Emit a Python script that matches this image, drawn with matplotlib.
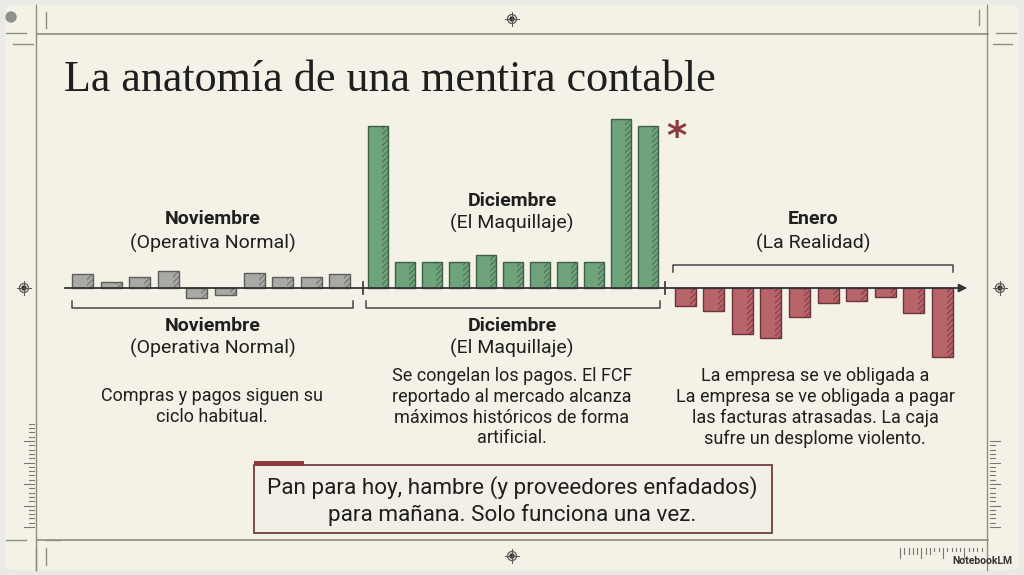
import numpy as np
import matplotlib.pyplot as plt
from matplotlib.patches import Rectangle, FancyBboxPatch

# FCF semanal (unidades arbitrarias)
nov_vals = [14, 6, 11, 17, -10, -7, 15, 11, 11, 14]
dic_vals = [162, 26, 26, 26, 33, 26, 26, 26, 26, 169, 162]
ene_vals = [-18, -23, -46, -50, -29, -15, -13, -9, -25, -69]

grupos = ['Noviembre', 'Diciembre', 'Enero']
subtitulos = ['(Operativa Normal)', '(El Maquillaje)', '(La Realidad)']
textos = [
    'Compras y pagos siguen su\nciclo habitual.',
    'Se congelan los pagos. El FCF\nreportado al mercado alcanza\nmáximos históricos de forma\nartificial.',
    'La empresa se ve obligada a\nLa empresa se ve obligada a pagar\nlas facturas atrasadas. La caja\nsufre un desplome violento.',
]
titulo = 'La anatomía de una mentira contable'
mensaje = 'Pan para hoy, hambre (y proveedores enfadados)\npara mañana. Solo funciona una vez.'

bg_col = '#f4f2e7'
line_col = '#8d8d82'
ink = '#1f1f1f'
gris, verde, rojo = '#a9a9a6', '#6fa37b', '#b7646b'
edge_gris, edge_verde, edge_rojo = '#5d5d5a', '#3f5f47', '#6e3338'
acento = '#8c3b40'

fig = plt.figure(figsize=(10.24, 5.75), dpi=100)
fig.patch.set_facecolor('#e9e9e6')

# capa de fondo en coordenadas de pixel
bg = fig.add_axes([0, 0, 1, 1])
bg.set_xlim(0, 1024)
bg.set_ylim(575, 0)
bg.axis('off')
bg.add_patch(FancyBboxPatch((5, 5), 1014, 565, boxstyle='round,pad=0,rounding_size=8',
                            fc=bg_col, ec='none'))

# marco
bg.plot([37, 988], [34, 34], color=line_col, lw=1.2)
bg.plot([37, 988], [540, 540], color=line_col, lw=1.2)
bg.plot([36, 36], [5, 570], color=line_col, lw=1.0)
bg.plot([987, 987], [5, 570], color=line_col, lw=1.0)
for x0, x1, y in [(6, 26, 33), (13, 33, 44), (996, 1016, 33), (993, 1012, 44),
                  (6, 26, 540), (46, 60, 540)]:
    bg.plot([x0, x1], [y, y], color=line_col, lw=1.0)
for x, y0, y1 in [(46, 12, 28), (979, 10, 25), (46, 548, 565), (36, 548, 570)]:
    bg.plot([x, x], [y0, y1], color=line_col, lw=1.0)

# dianas
for cx, cy in [(512, 19), (24, 288), (1000, 288), (512, 556)]:
    bg.add_patch(plt.Circle((cx, cy), 4.5, fill=False, ec='#555555', lw=0.9))
    bg.plot([cx - 7, cx + 7], [cy, cy], color='#555555', lw=0.7)
    bg.plot([cx, cx], [cy - 7, cy + 7], color='#555555', lw=0.7)
    bg.add_patch(plt.Circle((cx, cy), 2, color='#333333'))
bg.add_patch(plt.Circle((11, 17), 5, color='#8f918a'))

# reglas
for i, y in enumerate(np.arange(527, 420, -4.3)):
    L = 10 if i % 5 == 0 else 5
    bg.plot([34 - L, 34], [y, y], color='#777777', lw=0.8)
for i, y in enumerate(np.arange(527, 440, -4.3)):
    L = 10 if i % 5 == 0 else 5
    bg.plot([990, 990 + L], [y, y], color='#777777', lw=0.8)
for i, x in enumerate(np.arange(900, 985, 4.3)):
    L = 10 if i % 5 == 0 else (6 if i < 8 else 3)
    bg.plot([x, x], [548, 548 + L], color='#777777', lw=0.8)

bg.text(64, 80, titulo, family='Liberation Serif', fontsize=31.8, color=ink, va='center', ha='left')

# eje de barras: 1 unidad = 1 pixel, cero en la fila 288
ax = fig.add_axes([0, 0, 1, 1])
ax.set_xlim(0, 1024)
ax.set_ylim(-287, 288)
ax.axis('off')
ax.patch.set_alpha(0)

series = [nov_vals, dic_vals, ene_vals]
inicios = [82.5, 378, 685]
pasos = [28.6, 27.0, 28.6]
anchos = [21, 20, 21]
colores = [(gris, edge_gris), (verde, edge_verde), (rojo, edge_rojo)]
for vals, x0, paso, w, (fc, ec) in zip(series, inicios, pasos, anchos, colores):
    x = x0 + paso * np.arange(len(vals))
    ax.bar(x, vals, width=w, color=fc, edgecolor='none', zorder=2)
    ax.bar(x + w / 2 - 3, vals, width=6, fill=False, hatch='//////', edgecolor=ec,
           linewidth=0, alpha=0.6, zorder=3)
    ax.bar(x, vals, width=w, fill=False, edgecolor=ec, linewidth=1.0, zorder=4)

ax.annotate('', xy=(970, 0), xytext=(62, 0),
            arrowprops=dict(arrowstyle='-|>', color='#333333', lw=1.3, mutation_scale=12), zorder=5)
for xs in [363, 665]:
    ax.plot([xs, xs], [-6, 6], color='#333333', lw=1.2, zorder=5)

# corchetes
def corchete(x0, x1, y, d):
    ax.plot([x0, x0, x1, x1], [y - d, y, y, y - d], color='#444444', lw=1.1)

corchete(72, 353, -20, -7)
corchete(366, 660, -20, -7)
corchete(673, 953, 23, 7)

ax.text(676, 150, '*', color=acento, fontsize=28, fontweight='bold', ha='center', va='center')

# etiquetas
fuente = 'Roboto'
etiquetas_sup = [(213, 219, 243), (512, 201, 223), (813, 219, 243)]
for g, s, (cx, y1, y2) in zip(grupos, subtitulos, etiquetas_sup):
    bg.text(cx, y1, g, family=fuente, fontsize=14, fontweight='bold', color=ink, ha='center', va='center')
    bg.text(cx, y2, s, family=fuente, fontsize=14, color=ink, ha='center', va='center')
for g, s, cx in zip(grupos[:2], subtitulos[:2], [213, 512]):
    bg.text(cx, 326, g, family=fuente, fontsize=14, fontweight='bold', color=ink, ha='center', va='center')
    bg.text(cx, 348, s, family=fuente, fontsize=14, color=ink, ha='center', va='center')

bg.text(212, 387, textos[0], family=fuente, fontsize=13, color=ink, ha='center', va='top', linespacing=1.2)
bg.text(512, 367, textos[1], family=fuente, fontsize=13, color=ink, ha='center', va='top', linespacing=1.2)
bg.text(815, 367, textos[2], family=fuente, fontsize=13, color=ink, ha='center', va='top', linespacing=1.2)

# caja del mensaje
bg.add_patch(Rectangle((254, 465), 518, 68, fc='#f1efe6', ec='#7a4a4c', lw=1.4))
bg.add_patch(Rectangle((254, 461), 50, 5, fc=acento, ec='none'))
bg.text(512, 501, mensaje, family=fuente, fontsize=16.2, color=ink, ha='center', va='center', linespacing=1.3)

bg.text(1012, 561, 'NotebookLM', family=fuente, fontsize=7.5, fontweight='bold', color='#333333',
        ha='right', va='center')

fig.savefig('out.png', dpi=100, facecolor=fig.get_facecolor())
